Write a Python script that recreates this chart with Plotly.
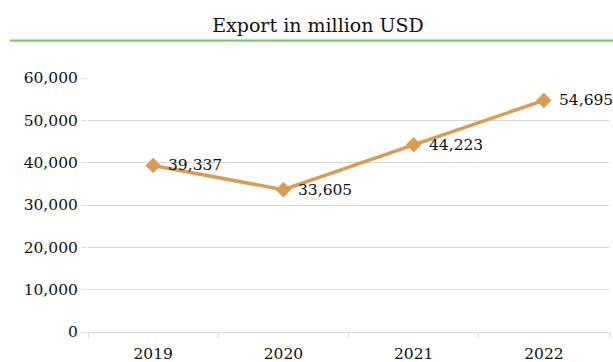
import plotly.graph_objects as go

years = ["2019", "2020", "2021", "2022"]
exports = [39337, 33605, 44223, 54695]
labels = ["39,337", "33,605", "44,223", "54,695"]

W, H = 613, 362
L, R, T, B = 88, 4, 78, 30
pw, ph = W - L - R, H - T - B

FONT = "DejaVu Serif"
GRID = "#d9d9d9"
TXT = "#111111"

fig = go.Figure()
fig.add_trace(go.Scatter(
    x=years, y=exports,
    mode="lines+markers",
    line=dict(color="#D89C54", width=3.5),
    marker=dict(symbol="diamond", size=12, color="#D89C54"),
    cliponaxis=False,
    showlegend=False,
))

for i, (yv, t) in enumerate(zip(exports, labels)):
    fig.add_annotation(x=i, y=yv, xref="x", yref="y", text=t, showarrow=False,
                       xanchor="left", yanchor="middle", xshift=13, yshift=0,
                       font=dict(family=FONT, size=15.5, color=TXT))

fig.update_layout(
    width=W, height=H,
    margin=dict(l=L, r=R, t=T, b=B, autoexpand=False),
    paper_bgcolor="white", plot_bgcolor="white",
    title=dict(text="Export in million USD", x=318 / W, xanchor="center",
               y=1 - 25 / H, yanchor="middle", yref="container",
               font=dict(family=FONT, size=19, color=TXT)),
    font=dict(family=FONT, size=15.5, color=TXT),
    xaxis=dict(type="category", range=[-0.5, 3.5], showgrid=False,
               tickson="boundaries", ticks="outside", ticklen=5, tickcolor=GRID,
               showline=True, linecolor=GRID, linewidth=1,
               ticklabelstandoff=7, automargin=False,
               tickfont=dict(family=FONT, size=15.5, color=TXT)),
    yaxis=dict(range=[0, 60000], dtick=10000, tickformat=",", showgrid=True,
               gridcolor=GRID, gridwidth=1, zeroline=False, showline=False,
               ticks="outside", ticklen=6, tickcolor=GRID, automargin=False,
               tickfont=dict(family=FONT, size=15.5, color=TXT)),
)

fig.add_shape(type="line", xref="paper", yref="paper",
              x0=(10 - L) / pw, x1=(W - L) / pw,
              y0=(H - B - 40.7) / ph, y1=(H - B - 40.7) / ph,
              line=dict(color="#7dc97a", width=2.2))

fig.write_html("out.html")
